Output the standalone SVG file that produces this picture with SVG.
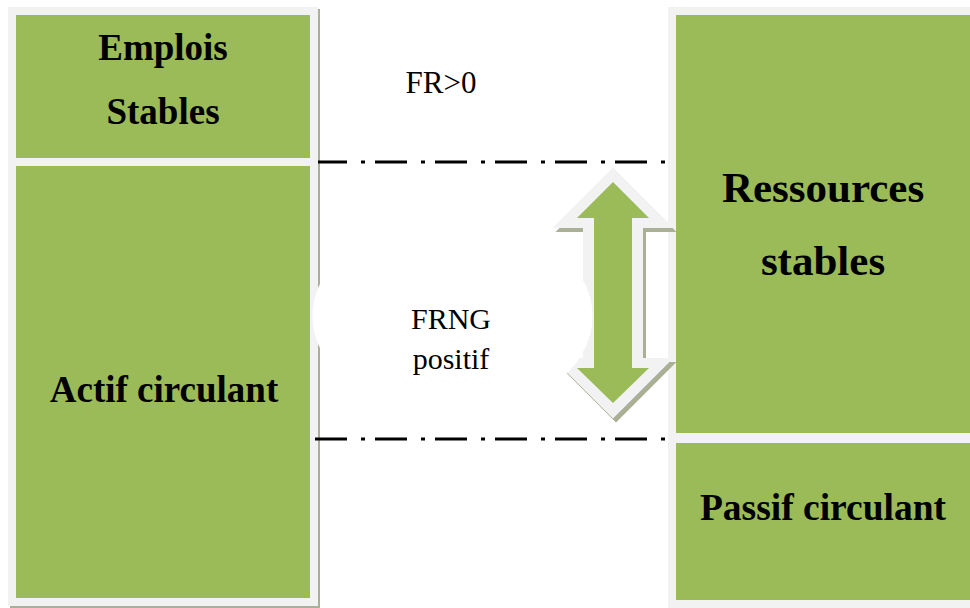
<svg xmlns="http://www.w3.org/2000/svg" width="970" height="608" viewBox="0 0 970 608">
<style>
.frame{fill:#f2f2f2}
.shadow{fill:#a9b095}
.green{fill:#9bbb59}
.bold{font-family:"Liberation Serif","Times New Roman",serif;font-weight:bold;fill:#000;text-anchor:middle}
.reg{font-family:"Liberation Serif","Times New Roman",serif;fill:#000;text-anchor:middle}
.dd{stroke:#000;stroke-width:3;fill:none;stroke-dasharray:32 14 4 10}
</style>
<rect width="970" height="608" fill="#fff"/>
<g id="left-box">
<rect class="shadow" x="10" y="9" width="310" height="599"/>
<rect class="frame" x="8" y="7" width="310" height="599"/>
</g>
<g id="emplois-stables">
<rect class="green" x="16" y="15" width="294" height="143"/>
<text class="bold" x="163" y="60" font-size="37">Emplois</text>
<text class="bold" x="163" y="124" font-size="37">Stables</text>
</g>
<g id="actif-circulant">
<rect class="green" x="16" y="166" width="294" height="432"/>
<text class="bold" x="164" y="402" font-size="37">Actif circulant</text>
</g>
<g id="right-box">
<rect class="frame" x="668" y="7" width="302" height="601"/>
</g>
<g id="ressources-stables">
<rect class="green" x="676" y="15" width="294" height="418"/>
<text class="bold" x="823" y="202" font-size="43">Ressources</text>
<text class="bold" x="823" y="275" font-size="43">stables</text>
</g>
<g id="passif-circulant">
<rect class="green" x="676" y="443" width="294" height="157"/>
<text class="bold" x="823" y="520" font-size="37.5">Passif circulant</text>
</g>
<g id="connectors">
<line class="dd" x1="318" y1="162" x2="666" y2="162" stroke-dashoffset="3"/>
<line class="dd" x1="315" y1="439" x2="666" y2="439"/>
</g>
<g id="arrow">
<polygon points="613,176 567,222 589,222 589,364 567,364 613,410 659,364 637,364 637,222 659,222" fill="#a9b095" stroke="#a9b095" stroke-width="12" stroke-linejoin="miter" transform="translate(3,4)"/>
<polygon points="613,176 567,222 589,222 589,364 567,364 613,410 659,364 637,364 637,222 659,222" fill="#f2f2f2" stroke="#f2f2f2" stroke-width="12" stroke-linejoin="miter"/>
<polygon points="613,182 577,218 594,218 594,368 577,368 613,403 649,368 632,368 632,218 649,218" class="green"/>
</g>
<g id="frng-label">
<ellipse cx="452.5" cy="316" rx="140" ry="100" fill="#fff"/>
<text class="reg" x="451" y="329" font-size="30">FRNG</text>
<text class="reg" x="451" y="369" font-size="30">positif</text>
</g>
<g id="fr-label">
<text class="reg" x="441" y="93" font-size="31">FR&gt;0</text>
</g>
</svg>
